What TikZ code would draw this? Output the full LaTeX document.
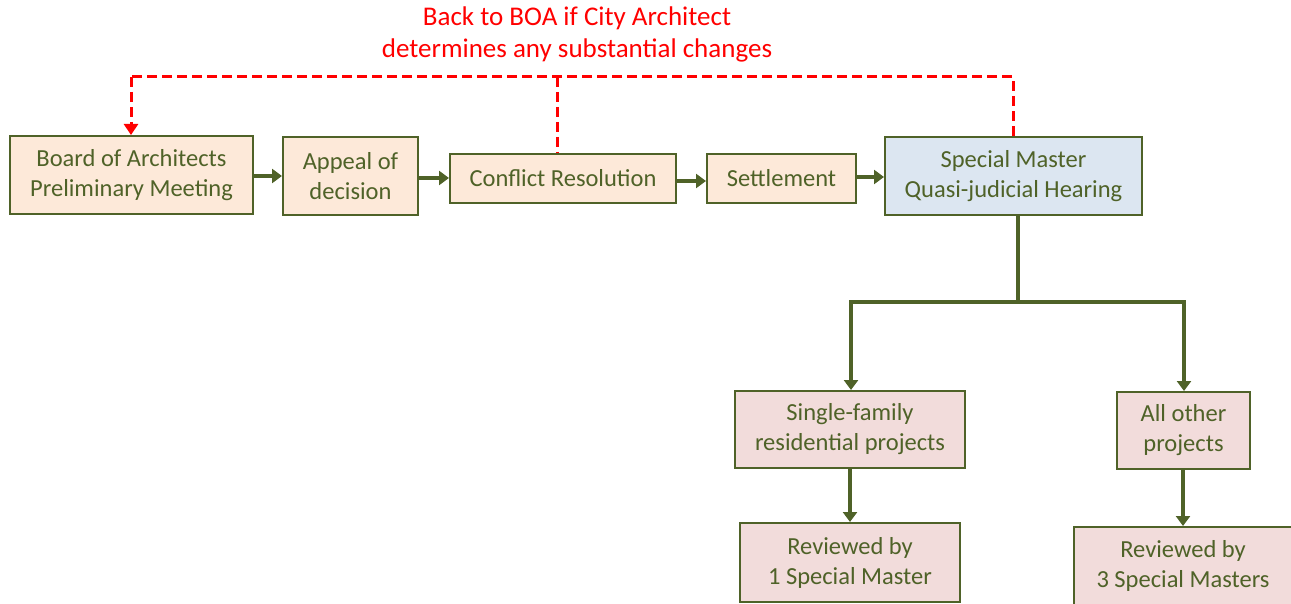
\documentclass[tikz,border=0pt]{standalone}
\usepackage{fontspec}
\setmainfont{Carlito}
\usetikzlibrary{arrows.meta}
\definecolor{olive}{HTML}{4F6228}
\definecolor{peach}{HTML}{FDE9D9}
\definecolor{paleblue}{HTML}{DCE6F1}
\definecolor{palepink}{HTML}{F2DCDB}
\definecolor{redline}{HTML}{FF0000}
\tikzset{
  box/.style={draw=olive, line width=2pt, text=olive, align=center, inner sep=0pt,
    font=\fontsize{24.5}{30}\selectfont},
  pbox/.style={box, fill=peach},
  bbox/.style={box, fill=paleblue},
  kbox/.style={box, fill=palepink},
  flow/.style={draw=olive, line width=3.2pt, -{Triangle[length=10pt,width=14pt]}},
  trunk/.style={draw=olive, line width=3.2pt},
  back/.style={draw=redline, line width=3pt, dash pattern=on 10pt off 5pt},
  backarrow/.style={back, -{Triangle[length=11pt,width=14pt]}}
}
\begin{document}
\begin{tikzpicture}[x=1pt,y=-1pt]
\useasboundingbox (0,0) rectangle (1291,604);
\node[pbox, minimum width=243pt, minimum height=78pt] (boa) at (131.5,175) {Board of Architects\\Preliminary Meeting};
\node[pbox, minimum width=135pt, minimum height=78pt] (appeal) at (350.5,176) {Appeal of\\decision};
\node[pbox, minimum width=226pt, minimum height=49pt] (conf) at (563,178.5) {Conflict Resolution};
\node[pbox, minimum width=149pt, minimum height=49pt] (settle) at (781.5,178.5) {Settlement};
\node[bbox, minimum width=257pt, minimum height=78pt] (sm) at (1013.5,176) {Special Master\\Quasi-judicial Hearing};
\node[kbox, minimum width=230pt, minimum height=77pt] (single) at (850,429.5) {Single-family\\residential projects};
\node[kbox, minimum width=133pt, minimum height=77pt] (other) at (1183.5,430.5) {All other\\projects};
\node[kbox, minimum width=220pt, minimum height=79pt] (rev1) at (850,562.5) {Reviewed by\\1 Special Master};
\node[kbox, minimum width=218pt, minimum height=78pt] (rev3) at (1183,566) {Reviewed by\\3 Special Masters};
\node[text=redline, align=center, font=\fontsize{27}{32}\selectfont] (note) at (577,34) {Back to BOA if City Architect\\determines any substantial changes};

\coordinate (topL) at (131,77);
\coordinate (topR) at (1013,77);
\coordinate (topM) at (557,77);
\coordinate (split) at (1018,302);
\coordinate (splitL) at (851,302);
\coordinate (splitR) at (1184,302);

\draw[flow] (boa.east |- 0,176) -- (appeal.west |- 0,176);
\draw[flow] (appeal.east |- 0,178) -- (conf.west |- 0,178);
\draw[flow] (conf.east |- 0,181) -- (settle.west |- 0,181);
\draw[flow] (settle.east |- 0,177) -- (sm.west |- 0,177);

\draw[trunk] (sm.south -| split) -- (split);
\draw[trunk, line cap=rect] (splitL) -- (splitR);
\draw[flow] (splitL) -- (single.north -| splitL);
\draw[flow] (splitR) -- (other.north -| splitR);
\draw[flow] (single) -- (rev1);
\draw[flow] (other.south -| 1183,0) -- (rev3.north -| 1183,0);

\draw[back] (sm.north -| topR) -- (topR) -- (topL);
\draw[back] (topM) -- (conf.north -| topM);
\draw[backarrow] (topL) -- (boa.north -| topL);
\end{tikzpicture}
\end{document}
